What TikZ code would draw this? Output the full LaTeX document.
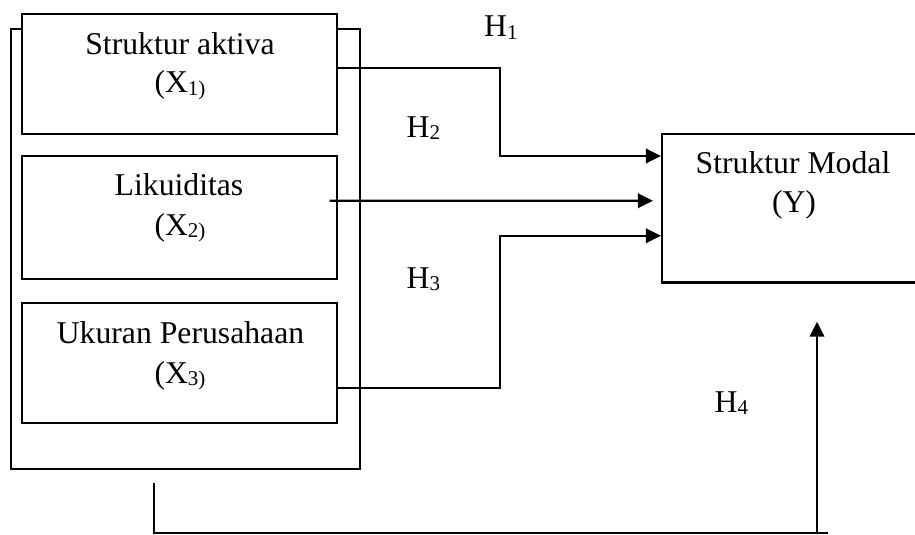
\documentclass[tikz,border=0pt]{standalone}
\usepackage{fontspec}
\setmainfont{Liberation Serif}
\usetikzlibrary{arrows.meta}
% small lowered index, as in X_1) and H_1
\newcommand\lowsub[1]{\raisebox{-0.09em}{\fontsize{21}{21}\selectfont #1}}

\begin{document}
\begin{tikzpicture}[x=1pt,y=-1pt,
  box/.style={draw, line width=2.2pt, fill=white, rectangle, inner sep=0pt},
  lbl/.style={font=\fontsize{31.7}{38}\selectfont, inner sep=0pt, anchor=base},
  hlbl/.style={font=\fontsize{31.7}{38}\selectfont, inner sep=0pt, anchor=base west},
  conn/.style={line width=2.2pt},
  arr/.style={conn, -{Triangle[length=15pt,width=14.5pt]}}]

\useasboundingbox (0,0) rectangle (915,535);

% frame around the independent variables
\node[box, minimum width=349pt, minimum height=440pt] (frame) at (185.5,249) {};

% independent variables
\node[box, minimum width=315pt, minimum height=120pt] (b1) at (179.5,74) {};
\node[box, minimum width=315pt, minimum height=123pt] (b2) at (179.5,217.5) {};
\node[box, minimum width=315pt, minimum height=120pt] (b3) at (179.5,363) {};

\node[lbl] (t1a) at (180,55) {Struktur aktiva};
\node[lbl] (t1b) at (180,92.5) {(X\lowsub{1)}};
\node[lbl] (t2a) at (179,195) {Likuiditas};
\node[lbl] (t2b) at (180,235) {(X\lowsub{2)}};
\node[lbl] (t3a) at (180.5,343) {Ukuran Perusahaan};
\node[lbl] (t3b) at (180,383) {(X\lowsub{3)}};

% dependent variable (its right side runs past the edge)
\node[box, minimum width=298pt, minimum height=148.5pt] (Y) at (811,208.25) {};
\node[lbl] (ya) at (793,173) {Struktur Modal};
\node[lbl] (yb) at (794,212) {(Y)};

% hypothesis labels
\node[hlbl] (h1) at (484,37) {H\lowsub{1}};
\node[hlbl] (h2) at (406.5,137) {H\lowsub{2}};
\node[hlbl] (h3) at (406.5,288) {H\lowsub{3}};
\node[hlbl] (h4) at (714.5,412) {H\lowsub{4}};

% connector anchors
\coordinate (m) at (500,0);
\coordinate (base) at (0,533.3);
\coordinate (e1) at ([yshift=52.25pt]Y.west);
\coordinate (e3) at ([yshift=-27.5pt]Y.west);
\coordinate (e4) at (817,321.7);
\coordinate (f4) at (828,0);

% H1
\draw[arr] ([yshift=5.7pt]b1.east) -| (m |- e1) -- (e1);
% H2
\draw[arr] ([xshift=-8.5pt,yshift=16.8pt]b2.east) -- ([xshift=-8pt,yshift=7.5pt]Y.west);
% H3
\draw[arr] ([yshift=-25pt]b3.east) -| (m |- e3) -- (e3);
% H4
\draw[conn] ([xshift=-31.5pt,yshift=-13pt]frame.south) |- (base -| f4);
\draw[arr] (base -| e4) -- (e4);

\end{tikzpicture}
\end{document}
